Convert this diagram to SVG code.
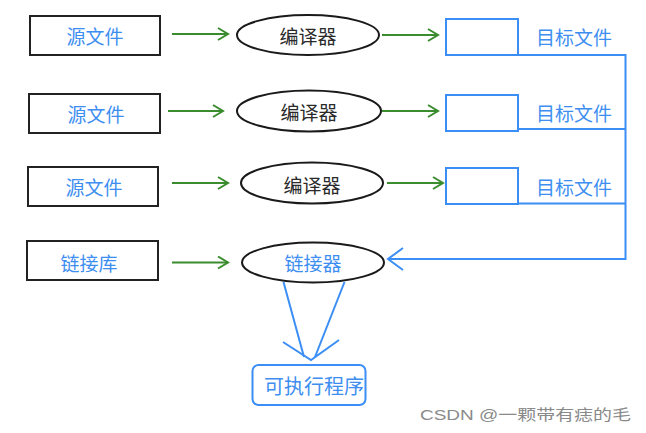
<svg xmlns="http://www.w3.org/2000/svg" width="646" height="433" viewBox="0 0 646 433">
<defs>
<style>
.box{fill:#fff;stroke:#222;stroke-width:2}
.tbox{fill:#fff;stroke:#3a8ef5;stroke-width:2}
.ell{fill:#fff;stroke:#1a1a1a;stroke-width:2}
.bt{font-family:"Noto Sans CJK SC","Noto Sans",sans-serif;font-size:19px;fill:#3d8ef0;text-anchor:middle;dominant-baseline:central}
.dt{font-family:"Noto Sans CJK SC","Noto Sans",sans-serif;font-size:19px;fill:#2a2a2a;text-anchor:middle;dominant-baseline:central}
.g{fill:none;stroke:#3a8c2e;stroke-width:2}
.b{fill:none;stroke:#3a8ef5;stroke-width:2}
.wm{font-family:"Liberation Sans","Noto Sans CJK SC",sans-serif;font-size:15px;fill:#8a8a8a}
</style>
<marker id="ga" markerUnits="userSpaceOnUse" markerWidth="14" markerHeight="16" refX="11" refY="7" orient="auto">
<path d="M1,1 L11,7 L1,13" fill="none" stroke="#3a8c2e" stroke-width="2"/>
</marker>
<marker id="ba" markerUnits="userSpaceOnUse" markerWidth="20" markerHeight="26" refX="17" refY="12" orient="auto">
<path d="M2,1 L17,12 L2,23" fill="none" stroke="#3a8ef5" stroke-width="2"/>
</marker>
</defs>
<rect width="646" height="433" fill="#fff"/>

<g id="src1"><rect class="box" x="30" y="16" width="130" height="39"/><text class="bt" x="95" y="35">源文件</text></g>
<g id="src2"><rect class="box" x="29" y="94" width="131" height="39"/><text class="bt" x="96" y="113">源文件</text></g>
<g id="src3"><rect class="box" x="28" y="167" width="130" height="39"/><text class="bt" x="94" y="186">源文件</text></g>
<g id="lib"><rect class="box" x="27" y="241" width="131" height="39"/><text class="bt" x="89" y="262">链接库</text></g>

<g id="cc1"><ellipse class="ell" cx="308" cy="35" rx="71" ry="20"/><text class="dt" x="308" y="35">编译器</text></g>
<g id="cc2"><ellipse class="ell" cx="309" cy="111" rx="72" ry="20.5"/><text class="dt" x="309" y="111">编译器</text></g>
<g id="cc3"><ellipse class="ell" cx="312" cy="183" rx="71" ry="20.5"/><text class="dt" x="312" y="184">编译器</text></g>
<g id="linker"><ellipse class="ell" cx="313" cy="262.5" rx="71" ry="20"/><text class="bt" x="313" y="262.5">链接器</text></g>

<g id="obj1"><rect class="tbox" x="446" y="19" width="72" height="36"/><text class="bt" x="574" y="36">目标文件</text></g>
<g id="obj2"><rect class="tbox" x="446" y="95" width="72" height="36"/><text class="bt" x="574" y="112">目标文件</text></g>
<g id="obj3"><rect class="tbox" x="446" y="168" width="72" height="36"/><text class="bt" x="574" y="186">目标文件</text></g>

<g id="exe"><rect class="tbox" x="252.5" y="365" width="113" height="40" rx="6"/><text class="bt" x="314" y="385" style="font-size:20px">可执行程序</text></g>

<g id="connectors">
<line class="g" x1="172" y1="34" x2="228" y2="34" marker-end="url(#ga)"/>
<line class="g" x1="168" y1="111" x2="223" y2="111" marker-end="url(#ga)"/>
<line class="g" x1="172" y1="183" x2="228" y2="183" marker-end="url(#ga)"/>
<line class="g" x1="172" y1="262.5" x2="228" y2="262.5" marker-end="url(#ga)"/>
<line class="g" x1="382" y1="35" x2="438" y2="35" marker-end="url(#ga)"/>
<line class="g" x1="382" y1="111" x2="438" y2="111" marker-end="url(#ga)"/>
<line class="g" x1="387" y1="183" x2="443" y2="183" marker-end="url(#ga)"/>
<polyline class="b" points="518,55 625.5,55 625.5,259 388,259" marker-end="url(#ba)"/>
<line class="b" x1="518" y1="129" x2="625.5" y2="129"/>
<line class="b" x1="518" y1="203.5" x2="625.5" y2="203.5"/>
<line class="b" x1="283.5" y1="282" x2="304" y2="357"/>
<line class="b" x1="344.5" y1="282" x2="315" y2="357"/>
<polyline class="b" points="283,342 311,360 339,340"/>
</g>

<text class="wm" x="420" y="420" textLength="211" lengthAdjust="spacingAndGlyphs">CSDN @一颗带有痣的毛</text>
</svg>
